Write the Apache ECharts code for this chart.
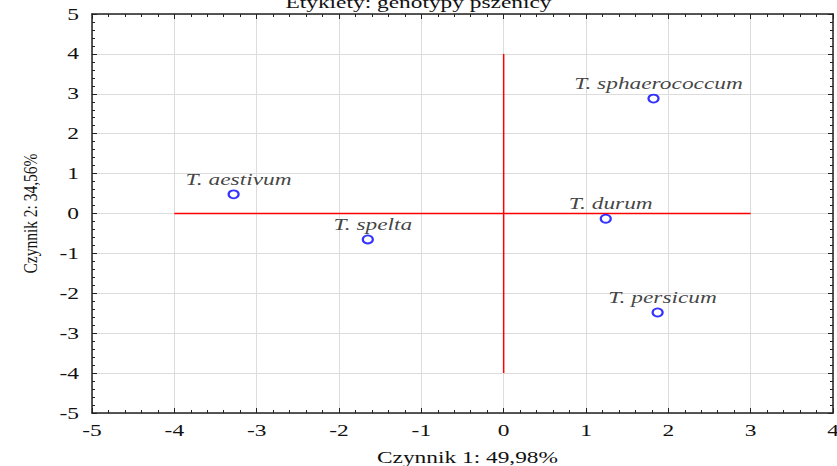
<!DOCTYPE html>
<html><head><meta charset="utf-8">
<script src="https://cdn.jsdelivr.net/npm/echarts@6/dist/echarts.min.js"></script>
<style>html,body{margin:0;padding:0;background:#fff}#c{width:837px;height:466px}</style>
</head><body><div id="c"></div>
<script>
var names = ["T. aestivum", "T. spelta", "T. durum", "T. sphaerococcum", "T. persicum"];
var factor1 = [-3.28, -1.65, 1.24, 1.82, 1.87];
var factor2 = [0.48, -0.65, -0.13, 2.88, -2.48];
var hLine = [[-4, 0], [3, 0]];
var vLine = [[0, -4], [0, 4]];
var titleText = "Etykiety: genotypy pszenicy";
var xName = "Czynnik 1: 49,98%";
var yName = "Czynnik 2: 34,56%";

var font = "'Liberation Serif', 'Times New Roman', serif";
var pts = names.map(function (n, i) { return { name: n, value: [factor1[i], factor2[i]] }; });

function axisBase(pos, showLabels) {
  return {
    type: 'value', position: pos, min: -5,
    interval: 1,
    axisLine: { show: true, onZero: false, lineStyle: { color: '#222', width: 1.5 } },
    axisTick: { show: true, inside: true, length: 5, lineStyle: { color: '#222' } },
    minorTick: { show: true, splitNumber: 5, length: 3, lineStyle: { color: '#222' } },
    splitLine: { show: false },
    axisLabel: { show: showLabels, color: '#111', fontFamily: font, fontSize: 16 }
  };
}
var xb = axisBase('bottom', true);
xb.max = 4; xb.name = xName; xb.nameLocation = 'middle'; xb.nameGap = 36;
xb.nameTextStyle = { color: '#111', fontFamily: font, fontSize: 16, padding: [0, 0, 0, 10] };
xb.axisLabel.margin = 9;
xb.splitLine = { show: true, lineStyle: { color: '#dcdcdc', width: 1 } };
var xt = axisBase('top', false); xt.max = 4;
var yl = axisBase('left', true);
yl.max = 5; yl.name = yName; yl.nameLocation = 'middle'; yl.nameGap = 52; yl.nameRotate = 90;
yl.nameTextStyle = { color: '#111', fontFamily: font, fontSize: 18 };
yl.axisLabel.margin = 13;
yl.splitLine = { show: true, lineStyle: { color: '#dcdcdc', width: 1 } };
var yr = axisBase('right', false); yr.max = 5;

var chart = echarts.init(document.getElementById('c'), null, { renderer: 'svg' });
chart.setOption({
  animation: false,
  title: { text: titleText, left: 'center', top: -11,
    textStyle: { fontFamily: font, fontSize: 16, fontWeight: 'normal', color: '#111' } },
  grid: { left: 92, right: 4, top: 14, bottom: 53, containLabel: false, outerBoundsMode: 'none' },
  xAxis: [xb, xt],
  yAxis: [yl, yr],
  series: [
    { type: 'line', data: hLine, symbol: 'none', lineStyle: { color: '#ff0000', width: 1.5 }, z: 2 },
    { type: 'line', data: vLine, symbol: 'none', lineStyle: { color: '#ff0000', width: 1.5 }, z: 2 },
    { type: 'scatter', data: pts, symbol: 'circle', symbolSize: [10, 8],
      itemStyle: { color: '#fff', borderColor: '#0000ff', borderWidth: 2 }, z: 3,
      label: { show: true, position: 'top', distance: 2, offset: [5, 0],
        formatter: function (p) { return p.name; },
        fontFamily: font, fontStyle: 'italic', fontSize: 16, color: '#111' } }
  ]
});

// the reference's text is horizontally widened; stretch glyphs to match
function stretchText() {
  var texts = document.querySelectorAll('#c svg text');
  texts.forEach(function (t) {
    var len = t.getComputedTextLength();
    if (!len) return;
    var target = t.textContent === yName ? 120 : len * 1.46;
    t.setAttribute('textLength', target.toFixed(1));
    t.setAttribute('lengthAdjust', 'spacingAndGlyphs');
  });
}
chart.on('finished', stretchText);
stretchText();
</script></body></html>
